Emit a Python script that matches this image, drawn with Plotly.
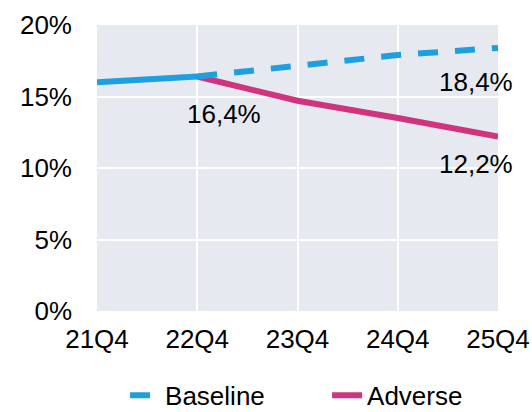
import plotly.graph_objects as go

quarters = ["21Q4", "22Q4", "23Q4", "24Q4", "25Q4"]
history = [16.0, 16.4, None, None, None]
baseline = [None, 16.4, 17.2, 17.9, 18.4]
adverse = [None, 16.4, 14.7, 13.5, 12.2]
y_ticks = [0, 5, 10, 15, 20]
y_tick_labels = ["0%", "5%", "10%", "15%", "20%"]

BLUE = "#1E9FE0"
PINK = "#D0347F"
FONT = "Liberation Sans, Arial, sans-serif"
FS = 26

fig = go.Figure()
fig.add_trace(go.Scatter(x=quarters, y=adverse, name="Adverse", mode="lines",
                         line=dict(color=PINK, width=6), legendrank=2))
fig.add_trace(go.Scatter(x=quarters, y=baseline, name="Baseline", mode="lines",
                         line=dict(color=BLUE, width=6, dash="20px,17px"), legendrank=1))
fig.add_trace(go.Scatter(x=quarters, y=history, name="History", mode="lines",
                         line=dict(color=BLUE, width=6), showlegend=False))

fig.add_annotation(x=quarters[1], y=adverse[1], text="16,4%", showarrow=False,
                   xanchor="center", yanchor="middle", xshift=27, yshift=-38,
                   font=dict(size=FS, color="black", family=FONT))
fig.add_annotation(x=quarters[4], y=baseline[4], text="18,4%", showarrow=False,
                   xanchor="right", yanchor="middle", xshift=17, yshift=-34,
                   font=dict(size=FS, color="black", family=FONT))
fig.add_annotation(x=quarters[4], y=adverse[4], text="12,2%", showarrow=False,
                   xanchor="right", yanchor="middle", xshift=17, yshift=-27,
                   font=dict(size=FS, color="black", family=FONT))

fig.update_layout(
    width=532, height=412,
    margin=dict(l=97, r=34, t=25, b=101, autoexpand=False),
    paper_bgcolor="white", plot_bgcolor="#E6E9F0",
    font=dict(family=FONT, size=FS, color="black"),
    showlegend=True,
    legend=dict(orientation="h", x=0.07, xanchor="left", y=-0.295, yanchor="middle",
                entrywidth=157, entrywidthmode="pixels",
                font=dict(size=FS, family=FONT), bgcolor="rgba(0,0,0,0)"),
    xaxis=dict(showgrid=True, gridcolor="white", gridwidth=2, range=[0, 4],
               showline=False, zeroline=False, ticks="", tickfont=dict(size=FS, family=FONT),
               tickvals=[0, 1, 2, 3, 4], ticktext=quarters, type="category",
               ticklabelstandoff=10, automargin=False),
    yaxis=dict(range=[0, 20], tickvals=y_ticks, ticktext=y_tick_labels,
               showgrid=True, gridcolor="white", gridwidth=2, zeroline=False,
               showline=False, ticks="", tickfont=dict(size=FS, family=FONT),
               ticklabelstandoff=24, automargin=False),
)

fig.write_html("out.html", config={"displayModeBar": False},
               post_script="document.body.style.margin='0';document.body.style.overflow='hidden';")
